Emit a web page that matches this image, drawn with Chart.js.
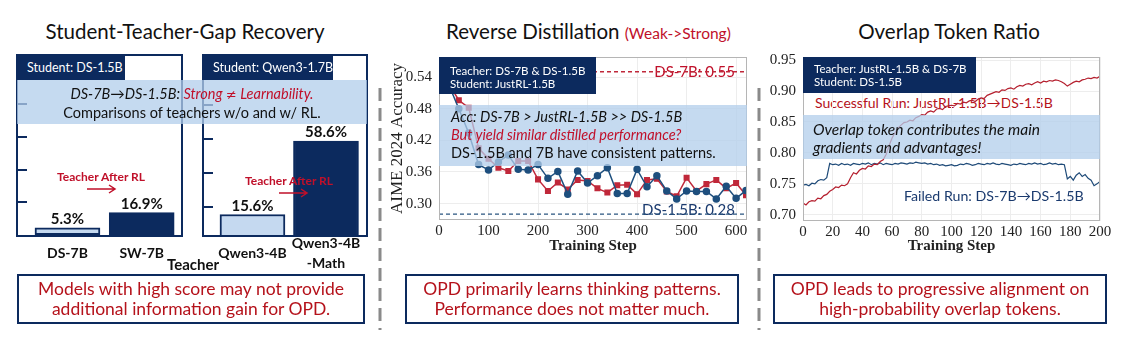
<!DOCTYPE html>
<html><head><meta charset="utf-8">
<script src="https://cdn.jsdelivr.net/npm/chart.js@4.4.1/dist/chart.umd.min.js"></script>
<style>
html,body{margin:0;padding:0;background:#fff;}
#fig{position:relative;width:1126px;height:352px;overflow:hidden;font-family:Lato,'Noto Sans',sans-serif;background:#fff;}
canvas{position:absolute;}
.t{position:absolute;white-space:nowrap;}
.title{font-size:20.5px;color:#111;line-height:22px;}
.hdr{position:absolute;background:#0c2a5e;color:#fff;font-size:11.5px;line-height:13.5px;box-sizing:border-box;padding-left:11px;white-space:nowrap;}
.band{position:absolute;background:rgba(178,206,235,0.75);}
.btxt{position:absolute;font-size:14.5px;line-height:18px;white-space:nowrap;color:#111;}
.box{position:absolute;border:2px solid #0c2a5e;box-sizing:border-box;color:#b5121b;font-size:17.5px;line-height:20px;text-align:center;padding-top:3px;white-space:nowrap;}
.red{color:#c0102a;}
.neq{font-family:'DejaVu Sans',sans-serif;font-style:normal;font-size:13px;}
</style></head>
<body>
<div id="fig">
  <!-- Panel 1 -->
  <div class="t title" style="left:185px;top:20px;transform:translateX(-50%);">Student-Teacher-Gap Recovery</div>
  <canvas id="c1a" width="190" height="230" style="left:0px;top:40px;"></canvas>
  <canvas id="c1b" width="180" height="230" style="left:195px;top:40px;"></canvas>
  <div class="hdr" style="left:17px;top:55px;width:108px;height:25px;padding-top:5px;padding-left:10px;font-size:12.5px;line-height:15px;">Student: DS-1.5B</div>
  <div class="hdr" style="left:203px;top:55px;width:130px;height:25px;padding-top:5px;padding-left:10px;font-size:12.5px;line-height:15px;">Student: Qwen3-1.7B</div>
  <div class="band" style="left:17px;top:80px;width:350px;height:44px;"></div>
  <div class="btxt" style="left:17px;top:85px;width:350px;text-align:center;"><i>DS-7B→DS-1.5B: <span class="red">Strong <span class="neq">≠</span> Learnability.</span></i><br>Comparisons of teachers w/o and w/ RL.</div>
  <div class="t" style="left:101px;top:170px;transform:translateX(-50%);font-size:12px;font-weight:bold;color:#c0102a;line-height:14px;">Teacher After RL</div>
  <div class="t" style="left:289px;top:174px;transform:translateX(-50%);font-size:12px;font-weight:bold;color:#c0102a;line-height:14px;">Teacher After RL</div>
  <div class="t" style="left:193px;top:255px;transform:translateX(-50%);font-size:15px;font-weight:bold;color:#111;line-height:18px;">Teacher</div>
  <div class="box" style="left:17px;top:274px;width:348px;height:50px;">Models with high score may not provide<br>additional information gain for OPD.</div>

  <!-- Panel 2 -->
  <div class="t title" style="left:446px;top:20px;">Reverse Distillation <span style="font-size:15.5px;color:#c0102a;">(Weak-&gt;Strong)</span></div>
  <canvas id="c2" width="390" height="220" style="left:370px;top:40px;"></canvas>
  <div class="band" style="left:439px;top:105px;width:308px;height:61px;"></div>
  <div class="btxt" style="left:451px;top:108px;"><i>Acc: DS-7B &gt; JustRL-1.5B &gt;&gt; DS-1.5B</i><br><i class="red">But yield similar distilled performance?</i><br>DS-1.5B and 7B have consistent patterns.</div>
  <div class="hdr" style="left:439px;top:57px;width:157px;height:37px;padding-top:6.5px;">Teacher: DS-7B &amp; DS-1.5B<br>Student: JustRL-1.5B</div>
  <div class="box" style="left:405px;top:274px;width:334px;height:50px;">OPD primarily learns thinking patterns.<br>Performance does not matter much.</div>

  <!-- Panel 3 -->
  <div class="t title" style="left:949px;top:20px;transform:translateX(-50%);">Overlap Token Ratio</div>
  <div class="t" style="left:815px;top:94px;font-size:14px;line-height:18px;color:#b5121b;">Successful Run: JustRL-1.5B→DS-1.5B</div>
  <canvas id="c3" width="370" height="220" style="left:750px;top:40px;"></canvas>
  <div class="band" style="left:803px;top:115px;width:297px;height:44px;"></div>
  <div class="btxt" style="left:813px;top:120px;font-size:15.5px;"><i>Overlap token contributes the main<br>gradients and advantages!</i></div>
  <div class="hdr" style="left:803px;top:57px;width:173px;height:36px;padding-top:4.5px;">Teacher: JustRL-1.5B &amp; DS-7B<br>Student: DS-1.5B</div>
  <div class="t" style="left:904px;top:187px;font-size:14.2px;line-height:18px;color:#1a3a6e;">Failed Run: DS-7B→DS-1.5B</div>
  <div class="box" style="left:773px;top:274px;width:334px;height:50px;">OPD leads to progressive alignment on<br>high-probability overlap tokens.</div>

  <svg width="1126" height="352" style="position:absolute;left:0;top:0;pointer-events:none;">
    <line x1="380" y1="88" x2="380" y2="330" stroke="#8a8a8a" stroke-width="3" stroke-dasharray="13 7"/>
    <line x1="759" y1="88" x2="759" y2="330" stroke="#8a8a8a" stroke-width="3" stroke-dasharray="13 7"/>
    <path d="M87,189 L115,189 M109,185 L115,189 L109,193" stroke="#c0102a" stroke-width="1.5" fill="none"/>
    <path d="M279,193 L307,193 M301,189 L307,193 L301,197" stroke="#c0102a" stroke-width="1.5" fill="none"/>
  </svg>
</div>
<script>
// ---------- Panel 1 data ----------
const teachersDS = ['DS-7B', 'SW-7B'];
const scoresDS = [5.3, 16.9];
const teachersQwen = ['Qwen3-4B', 'Qwen3-4B\n-Math'];
const scoresQwen = [15.6, 58.6];
const barTicksDS = [25, 50, 75, 100];
const barTicksQwen = [20, 40, 60, 80];

// ---------- Panel 2 data ----------
const rdSteps = [20,40,60,80,100,120,140,160,180,200,220,240,260,280,300,320,340,360,380,400,420,440,460,480,500,520,540,560,580,600,620];
const rdTeacherDS7B = [0.527,0.496,0.482,0.405,0.385,0.368,0.362,0.381,0.381,0.346,0.324,0.340,0.327,0.345,0.343,0.329,0.321,0.335,0.336,0.318,0.345,0.347,0.323,0.314,0.349,0.324,0.337,0.345,0.329,0.339,0.316];
const rdTeacherDS15B = [0.525,0.480,0.434,0.374,0.364,0.379,0.392,0.365,0.364,0.374,0.348,0.361,0.318,0.362,0.339,0.353,0.368,0.319,0.319,0.365,0.332,0.353,0.324,0.309,0.324,0.323,0.323,0.309,0.333,0.310,0.325];
const rdXTicks = [0,100,200,300,400,500,600];
const rdYTicks = [0.30,0.36,0.42,0.48,0.54];
const refDS7B = 0.55;
const refDS15B = 0.28;

// ---------- Panel 3 data ----------
const ovSteps = [0,2,4,6,8,10,12,14,16,18,20,22,24,26,28,30,32,34,36,38,40,42,44,46,48,50,52,54,56,58,60,62,64,66,68,70,72,74,76,78,80,82,84,86,88,90,92,94,96,98,100,102,104,106,108,110,112,114,116,118,120,122,124,126,128,130,132,134,136,138,140,142,144,146,148,150,152,154,156,158,160,162,164,166,168,170,172,174,176,178,180,182,184,186,188,190,192,194,196,198,200];
const ovSuccess = [0.719,0.716,0.721,0.723,0.722,0.727,0.726,0.731,0.733,0.738,0.741,0.745,0.744,0.748,0.747,0.750,0.760,0.768,0.766,0.772,0.775,0.774,0.779,0.778,0.782,0.781,0.786,0.789,0.798,0.812,0.824,0.833,0.840,0.845,0.849,0.850,0.853,0.852,0.857,0.859,0.862,0.861,0.866,0.868,0.866,0.871,0.872,0.870,0.875,0.876,0.877,0.876,0.880,0.879,0.882,0.881,0.884,0.885,0.883,0.887,0.889,0.888,0.893,0.895,0.897,0.899,0.898,0.902,0.901,0.904,0.905,0.903,0.907,0.909,0.908,0.911,0.912,0.910,0.913,0.915,0.913,0.916,0.915,0.917,0.916,0.918,0.917,0.915,0.912,0.908,0.911,0.914,0.916,0.915,0.918,0.919,0.921,0.920,0.922,0.921,0.924];
const ovFailed = [0.748,0.749,0.747,0.751,0.750,0.755,0.757,0.756,0.760,0.783,0.781,0.782,0.780,0.783,0.781,0.782,0.780,0.783,0.782,0.781,0.783,0.782,0.784,0.781,0.783,0.782,0.784,0.781,0.783,0.782,0.781,0.783,0.782,0.784,0.783,0.782,0.784,0.783,0.785,0.784,0.783,0.784,0.782,0.783,0.781,0.782,0.780,0.781,0.779,0.780,0.781,0.779,0.780,0.782,0.781,0.783,0.782,0.780,0.781,0.783,0.782,0.781,0.783,0.782,0.784,0.782,0.781,0.783,0.782,0.781,0.780,0.782,0.781,0.783,0.782,0.781,0.783,0.782,0.784,0.782,0.783,0.781,0.782,0.784,0.782,0.783,0.781,0.782,0.781,0.758,0.762,0.756,0.764,0.768,0.762,0.765,0.759,0.756,0.747,0.750,0.754];
const ovXTicks = [0,20,40,60,80,100,120,140,160,180,200];
const ovYTicks = [0.70,0.75,0.80,0.85,0.90,0.95];

// ---------- styles ----------
const NAVY = '#0c2a5e';
const LIGHT = '#c5d9f0';
const SANS = 'Lato, "Noto Sans", sans-serif';
const SERIF = '"Liberation Serif", "Times New Roman", serif';
Chart.defaults.animation = false;
Chart.defaults.devicePixelRatio = 1;

function barPanel(id, labels, vals, tickVals, ymin, ymax, xmin, xmax, pad) {
  const decor = {
    id: 'barDecor',
    afterDraw(chart) {
      const ctx = chart.ctx, a = chart.chartArea;
      const xs = chart.scales.x, ys = chart.scales.y;
      ctx.save();
      ctx.strokeStyle = NAVY; ctx.lineWidth = 2;
      ctx.strokeRect(a.left, a.top, a.right - a.left, a.bottom - a.top);
      tickVals.forEach(v => {
        const y = Math.round(ys.getPixelForValue(v));
        ctx.beginPath(); ctx.moveTo(a.left, y); ctx.lineTo(a.left + 10, y); ctx.stroke();
      });
      ctx.fillStyle = '#111';
      ctx.font = 'bold 15px ' + SANS;
      ctx.textAlign = 'center'; ctx.textBaseline = 'bottom';
      vals.forEach((v, i) => {
        ctx.fillText(v.toFixed(1) + '%', xs.getPixelForValue(i), ys.getPixelForValue(v) - 1);
      });
      ctx.font = 'bold 14px ' + SANS; ctx.textBaseline = 'middle';
      labels.forEach((lab, i) => {
        const lines = lab.split('\n');
        const cy = a.bottom + 17;
        lines.forEach((ln, j) => {
          ctx.fillText(ln, xs.getPixelForValue(i), cy + (j - (lines.length - 1) / 2) * 20);
        });
      });
      ctx.restore();
    }
  };
  new Chart(document.getElementById(id), {
    type: 'bar',
    data: { datasets: [{
      data: vals.map((v, i) => ({ x: i, y: v })),
      backgroundColor: [LIGHT, NAVY], borderColor: NAVY, borderWidth: 2,
      borderSkipped: false, barThickness: 65, clip: 0
    }]},
    options: {
      responsive: false,
      layout: { padding: pad, autoPadding: false },
      plugins: { legend: { display: false }, tooltip: { enabled: false } },
      scales: {
        x: { type: 'linear', min: xmin, max: xmax, offset: false, display: false },
        y: { min: ymin, max: ymax, display: false }
      }
    },
    plugins: [decor]
  });
}
barPanel('c1a', teachersDS, scoresDS, barTicksDS, -1, 138, -0.68, 1.543, { left: 17, right: 8, top: 15, bottom: 34 });
barPanel('c1b', teachersQwen, scoresQwen, barTicksQwen, 3, 109, -0.673, 1.558, { left: 8, right: 8, top: 15, bottom: 34 });

const frame = {
  id: 'frame',
  afterDraw(chart) {
    const a = chart.chartArea, ctx = chart.ctx;
    ctx.save(); ctx.strokeStyle = '#b5b5b5'; ctx.lineWidth = 1;
    ctx.strokeRect(a.left + 0.5, a.top + 0.5, a.right - a.left - 1, a.bottom - a.top - 1);
    ctx.restore();
  }
};

function lineScales(xmin, xmax, xt, ymin, ymax, yt, yw, xh, ytitle) {
  const tickFont = { family: SERIF, size: 15 };
  return {
    x: {
      type: 'linear', min: xmin, max: xmax,
      afterBuildTicks: s => { s.ticks = xt.map(v => ({ value: v })); },
      afterFit: s => { s.height = xh; },
      grid: { color: '#ededed', drawTicks: false }, border: { display: false },
      ticks: { font: tickFont, color: '#222', padding: 2, maxRotation: 0, autoSkip: false, callback: v => String(v) },
      title: { display: true, text: 'Training Step', color: '#222', font: { family: SERIF, size: 15, weight: 'bold' }, padding: { top: 0, bottom: 4 } }
    },
    y: {
      min: ymin, max: ymax,
      afterBuildTicks: s => { s.ticks = yt.map(v => ({ value: v })); },
      afterFit: s => { s.width = yw; },
      grid: { color: '#ededed', drawTicks: false }, border: { display: false },
      ticks: { font: tickFont, color: '#222', padding: 7, callback: v => v.toFixed(2) },
      title: ytitle ? { display: true, text: ytitle, color: '#222', font: { family: SERIF, size: 17 }, padding: { top: 3, bottom: 0 } } : { display: false }
    }
  };
}

const refLines = {
  id: 'refLines',
  afterDatasetsDraw(chart) {
    const ctx = chart.ctx, a = chart.chartArea, ys = chart.scales.y;
    ctx.save();
    ctx.font = '15px ' + SANS; ctx.textAlign = 'right'; ctx.textBaseline = 'middle';
    const y1 = ys.getPixelForValue(refDS7B), y2 = ys.getPixelForValue(refDS15B);
    ctx.fillStyle = '#c0102a'; ctx.fillText('DS-7B: ' + refDS7B.toFixed(2), a.right - 12, y1);
    ctx.fillStyle = '#1a3a6e'; ctx.fillText('DS-1.5B: ' + refDS15B.toFixed(2), a.right - 12, y2 - 4);
    ctx.setLineDash([4, 3]); ctx.lineWidth = 1.3;
    ctx.strokeStyle = '#c0283a';
    ctx.beginPath(); ctx.moveTo(a.left, y1); ctx.lineTo(a.right, y1); ctx.stroke();
    ctx.strokeStyle = '#2a5580';
    ctx.beginPath(); ctx.moveTo(a.left, y2); ctx.lineTo(a.right, y2); ctx.stroke();
    ctx.restore();
  }
};

new Chart(document.getElementById('c2'), {
  type: 'line',
  data: { datasets: [
    { data: rdSteps.map((s, i) => ({ x: s, y: rdTeacherDS15B[i] })), borderColor: '#1e4f7e', backgroundColor: '#1e4f7e',
      pointStyle: 'circle', pointRadius: 3, borderWidth: 1.5 },
    { data: rdSteps.map((s, i) => ({ x: s, y: rdTeacherDS7B[i] })), borderColor: '#c0283a', backgroundColor: '#c0283a',
      pointStyle: 'rect', pointRadius: 3.2, borderWidth: 1.5 }
  ]},
  options: {
    responsive: false,
    layout: { padding: { left: 14, top: 17, right: 13, bottom: 1 }, autoPadding: false },
    plugins: { legend: { display: false }, tooltip: { enabled: false } },
    scales: lineScales(0, 622, rdXTicks, 0.269, 0.578, rdYTicks, 55, 39, 'AIME 2024 Accuracy')
  },
  plugins: [frame, refLines]
});

new Chart(document.getElementById('c3'), {
  type: 'line',
  data: { datasets: [
    { data: ovSteps.map((s, i) => ({ x: s, y: ovSuccess[i] })), borderColor: '#b5202f', pointRadius: 0, borderWidth: 1.2 },
    { data: ovSteps.map((s, i) => ({ x: s, y: ovFailed[i] })), borderColor: '#1e4a78', pointRadius: 0, borderWidth: 1.2 }
  ]},
  options: {
    responsive: false,
    layout: { padding: { left: 0, top: 17, right: 20, bottom: 1 }, autoPadding: false },
    plugins: { legend: { display: false }, tooltip: { enabled: false } },
    scales: lineScales(0, 200, ovXTicks, 0.69, 0.955, ovYTicks, 53, 38, null)
  },
  plugins: [frame]
});
</script>
</body></html>
